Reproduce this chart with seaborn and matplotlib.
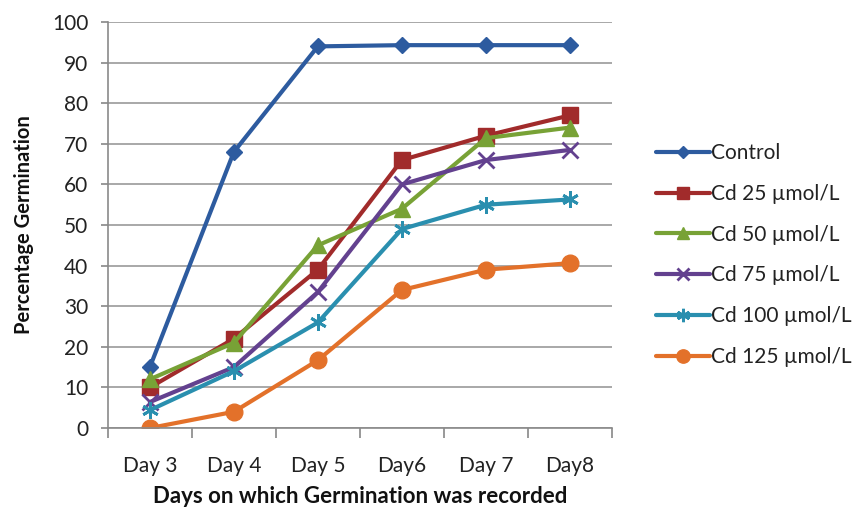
import matplotlib
matplotlib.use("Agg")
import matplotlib.pyplot as plt
import seaborn as sns
import pandas as pd
import numpy as np

days = ["Day 3", "Day 4", "Day 5", "Day6", "Day 7", "Day8"]
control = [15, 68, 94, 94.3, 94.3, 94.3]
cd25 = [10, 22, 39, 66, 72, 77]
cd50 = [12, 21, 45, 54, 71.4, 74]
cd75 = [6.4, 15, 33.5, 60, 66, 68.5]
cd100 = [4.4, 14, 26, 49, 55, 56.3]
cd125 = [0, 4, 16.7, 34, 39, 40.6]

series = ["Control", "Cd 25 µmol/L", "Cd 50 µmol/L", "Cd 75 µmol/L",
          "Cd 100 µmol/L", "Cd 125 µmol/L"]
values = [control, cd25, cd50, cd75, cd100, cd125]

colors = ["#2D5B9F", "#A12B2B", "#78A236", "#63418F", "#2A8FAF", "#E3712A"]
markers = ["D", "s", "^", "x", (6, 2, 0), "o"]
msizes = [8, 11, 11, 11, 12, 12]

df = pd.DataFrame({
    "day": np.tile(np.arange(len(days)), len(series)),
    "value": np.concatenate(values),
    "series": np.repeat(series, len(days)),
})

sns.set_style("white")
plt.rcParams["font.family"] = ["Lato", "DejaVu Sans"]

fig = plt.figure(figsize=(8.63, 5.12), dpi=100)
ax = fig.add_axes([0.125, 0.164, 0.584, 0.793])

for name, col, mk, ms in zip(series, colors, markers, msizes):
    sub = df[df["series"] == name]
    sns.lineplot(data=sub, x="day", y="value", ax=ax, color=col, lw=3,
                 marker=mk, markersize=ms, markeredgecolor=col,
                 markeredgewidth=2 if mk in ("x", (6, 2, 0)) else 1,
                 label=name)

ax.set_xlim(-0.5, len(days) - 0.5)
ax.set_ylim(0, 100)
ax.set_yticks(np.arange(0, 101, 10))
ax.set_xticks(np.arange(len(days)))
ax.set_xticklabels(days)
ax.set_xticks(np.arange(-0.5, len(days), 1), minor=True)
ax.tick_params(axis="x", which="major", length=0, pad=20, labelsize=15,
               colors="#222222")
ax.tick_params(axis="x", which="minor", length=7, width=1.2, color="#888888",
               direction="out", bottom=True)
ax.tick_params(axis="y", length=5, width=1.2, color="#888888", direction="out",
               left=True, labelsize=15, colors="#222222", pad=9)

ax.grid(axis="y", color="#9a9a9a", lw=1.2)
ax.set_axisbelow(True)
for s in ["top", "right"]:
    ax.spines[s].set_visible(False)
for s in ["left", "bottom"]:
    ax.spines[s].set_color("#8a8a8a")
    ax.spines[s].set_linewidth(1.2)

ax.set_xlabel("Days on which Germination was recorded", fontsize=16,
              fontweight="bold", labelpad=7, color="#111111")
ax.set_ylabel("Percentage Germination", fontsize=14.5, fontweight="bold",
              labelpad=13, color="#111111")

leg = ax.legend(loc="center left", bbox_to_anchor=(1.05, 0.426), frameon=False,
                fontsize=15, handlelength=2.6, handletextpad=0.05,
                labelspacing=1.0, markerscale=0.8)
for t in leg.get_texts():
    t.set_color("#222222")

fig.savefig("out.png", dpi=100)
